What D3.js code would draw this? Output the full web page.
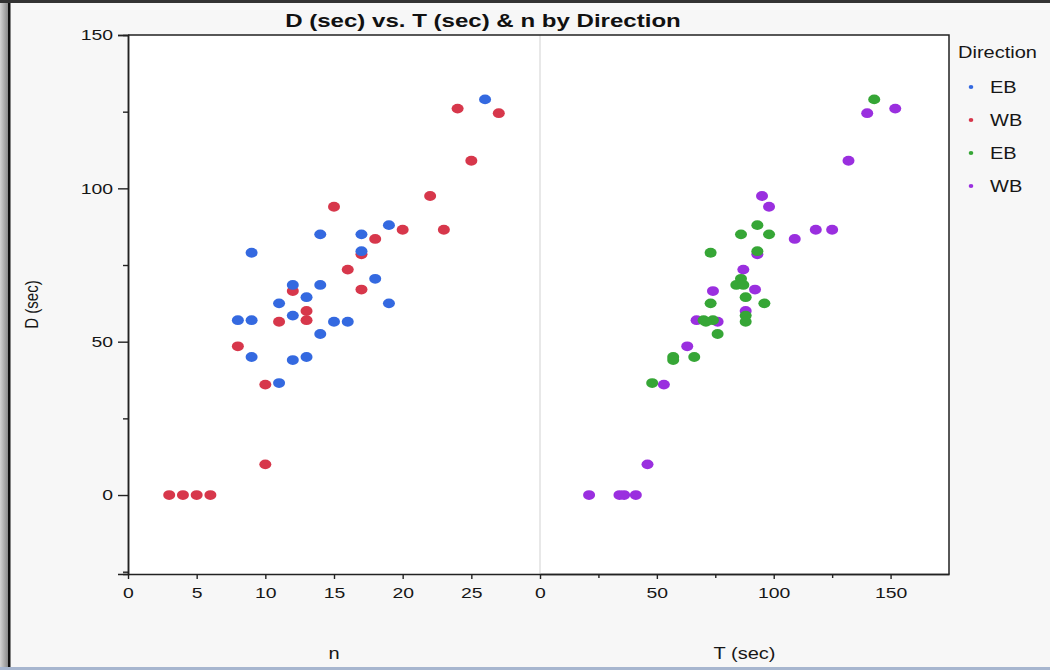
<!DOCTYPE html>
<html>
<head>
<meta charset="utf-8">
<script src="https://cdn.jsdelivr.net/npm/d3@7"></script>
<style>
  html, body { margin: 0; padding: 0; background: #f7f7f7; }
  svg { display: block; font-family: "Liberation Sans", Arial, sans-serif; }
</style>
</head>
<body>
<svg id="chart" width="1050" height="670"></svg>
<script>
// Eastbound observations: count n, travel time T (sec), delay D (sec)
const ebN = [26, 19, 14, 17, 9, 17, 18, 12, 14, 13, 11, 19, 12, 8, 9, 15, 16, 14, 9, 12, 13, 11];
const ebT = [143, 93, 86, 98, 73, 93, 86, 84, 87, 88, 73, 96, 88, 74, 70, 88, 71, 76, 57, 57, 66, 48];
const ebD = [129, 88, 85, 85, 79, 79.5, 70.5, 68.5, 68.5, 64.5, 62.5, 62.5, 58.5, 57, 57, 56.5, 56.5, 52.5, 45, 44, 45, 36.5];

// Westbound observations
const wbN = [24, 27, 25, 22, 15, 20, 23, 18, 17, 16, 17, 12, 13, 13, 11, 8, 10, 10, 3, 4, 5, 6];
const wbT = [152, 140, 132, 95, 98, 118, 125, 109, 93, 87, 92, 74, 88, 67, 76, 63, 53, 46, 21, 34, 36, 41];
const wbD = [126, 124.5, 109, 97.5, 94, 86.5, 86.5, 83.5, 78.5, 73.5, 67, 66.5, 60, 57, 56.5, 48.5, 36, 10, 0, 0, 0, 0];

// Axis ticks
const nTicks = [0, 5, 10, 15, 20, 25];
const tTicks = [0, 50, 100, 150];
const tMinor = [25, 75, 125];
const dTicks = [0, 50, 100, 150];
const dMinor = [-25, 25, 75, 125];

// Legend entries
const legendLabels = ["EB", "WB", "EB", "WB"];
const colors = { nEB: "#3469e0", nWB: "#d7374b", tEB: "#36a636", tWB: "#9a2fdf" };
const legendColors = [colors.nEB, colors.nWB, colors.tEB, colors.tWB];

const svg = d3.select("#chart");
const W = 1050, H = 670;
const STRETCH = 1.25;

// window frame
svg.append("rect").attr("x", 0).attr("y", 0).attr("width", W).attr("height", H).attr("fill", "#f7f7f7");
const grad = svg.append("defs").append("linearGradient").attr("id", "edge").attr("x1", 0).attr("x2", 1);
grad.append("stop").attr("offset", 0).attr("stop-color", "#d4d4d4");
grad.append("stop").attr("offset", 1).attr("stop-color", "#8a8a8a");
svg.append("rect").attr("x", 0).attr("y", 0).attr("width", 8).attr("height", H).attr("fill", "url(#edge)");
svg.append("rect").attr("x", 8).attr("y", 0).attr("width", 2.5).attr("height", H).attr("fill", "#111");
svg.append("rect").attr("x", 0).attr("y", 0).attr("width", W).attr("height", 3).attr("fill", "#333");
svg.append("rect").attr("x", 0).attr("y", 667).attr("width", W).attr("height", 3).attr("fill", "#a7b6cf");

// plot geometry
const pTop = 35, pBottom = 574, pLeft = 128, pMid = 540, pRight = 949;

const y = d3.scaleLinear().domain([-25.75, 150]).range([pBottom, pTop]);
const xN = d3.scaleLinear().domain([0, 30]).range([pLeft, pMid]);
const xT = d3.scaleLinear().domain([0, 175]).range([pMid, pRight]);

svg.append("rect").attr("x", pLeft).attr("y", pTop).attr("width", pRight - pLeft).attr("height", pBottom - pTop).attr("fill", "#fff");
svg.append("line").attr("x1", pMid).attr("x2", pMid).attr("y1", pTop).attr("y2", pBottom)
  .attr("stroke", "#d9d9d9").attr("stroke-width", 1.2);

// frame (top & right)
svg.append("path").attr("d", `M${pLeft},${pTop}H${pRight}V${pBottom}`).attr("fill", "none")
  .attr("stroke", "#222").attr("stroke-width", 1.5);

const textColor = "#161616";
function styleAxis(g) {
  g.selectAll(".domain").attr("stroke", "#222").attr("stroke-width", 1.5);
  g.selectAll(".tick line").attr("stroke", "#222").attr("stroke-width", 1.4);
  g.selectAll("text").attr("font-size", 15.5).attr("fill", textColor)
    .attr("font-family", '"Liberation Sans", Arial, sans-serif').classed("st", true);
}

// y axis
svg.append("g").attr("transform", `translate(${pLeft},0)`)
  .call(d3.axisLeft(y).tickValues(dMinor).tickSize(5).tickFormat(""))
  .call(styleAxis);
svg.append("g").attr("transform", `translate(${pLeft},0)`)
  .call(d3.axisLeft(y).tickValues(dTicks).tickSize(10).tickPadding(5))
  .call(styleAxis);

// x axes
svg.append("g").attr("transform", `translate(0,${pBottom})`)
  .call(d3.axisBottom(xN).tickValues(nTicks).tickSize(5).tickPadding(8).tickSizeOuter(0))
  .call(styleAxis);
svg.append("g").attr("transform", `translate(0,${pBottom})`)
  .call(d3.axisBottom(xT).tickValues(tMinor).tickSize(4).tickFormat("").tickSizeOuter(0))
  .call(styleAxis);
svg.append("g").attr("transform", `translate(0,${pBottom})`)
  .call(d3.axisBottom(xT).tickValues(tTicks).tickSize(5).tickPadding(8).tickSizeOuter(0))
  .call(styleAxis);

// points
const ebRows = ebN.map((n, i) => ({ n, t: ebT[i], d: ebD[i] }));
const wbRows = wbN.map((n, i) => ({ n, t: wbT[i], d: wbD[i] }));
const RX = 6, RY = 4.9;

const pts = svg.append("g");
pts.selectAll(".nwb").data(wbRows).join("ellipse").attr("class", "nwb")
  .attr("cx", r => xN(r.n)).attr("cy", r => y(r.d)).attr("rx", RX).attr("ry", RY).attr("fill", colors.nWB);
pts.selectAll(".neb").data(ebRows).join("ellipse").attr("class", "neb")
  .attr("cx", r => xN(r.n)).attr("cy", r => y(r.d)).attr("rx", RX).attr("ry", RY).attr("fill", colors.nEB);
pts.selectAll(".twb").data(wbRows).join("ellipse").attr("class", "twb")
  .attr("cx", r => xT(r.t)).attr("cy", r => y(r.d)).attr("rx", RX).attr("ry", RY).attr("fill", colors.tWB);
pts.selectAll(".teb").data(ebRows).join("ellipse").attr("class", "teb")
  .attr("cx", r => xT(r.t)).attr("cy", r => y(r.d)).attr("rx", RX).attr("ry", RY).attr("fill", colors.tEB);

// titles
svg.append("text").attr("class", "st wide").attr("x", 483).attr("y", 27).attr("text-anchor", "middle")
  .attr("font-size", 18.5).attr("font-weight", "bold").attr("fill", "#111")
  .text("D (sec) vs. T (sec) & n by Direction");
svg.append("text").attr("class", "st").attr("x", (pLeft + pMid) / 2).attr("y", 659).attr("text-anchor", "middle")
  .attr("font-size", 16).attr("fill", textColor).text("n");
svg.append("text").attr("class", "st").attr("x", (pMid + pRight) / 2).attr("y", 659).attr("text-anchor", "middle")
  .attr("font-size", 16).attr("fill", textColor).text("T (sec)");
svg.append("text").attr("transform", `translate(38,${(pTop + pBottom) / 2}) scale(${STRETCH},1) rotate(-90)`)
  .attr("text-anchor", "middle").attr("font-size", 15).attr("fill", textColor).text("D (sec)");

// legend
const lg = svg.append("g");
lg.append("text").attr("class", "st").attr("x", 958).attr("y", 58).attr("font-size", 16)
  .attr("fill", textColor).text("Direction");
const items = lg.selectAll(".item").data(legendLabels).join("g").attr("class", "item")
  .attr("transform", (d, i) => `translate(0,${87 + i * 33})`);
items.append("ellipse").attr("cx", 971).attr("cy", 0).attr("rx", 2.3).attr("ry", 1.9)
  .attr("fill", (d, i) => legendColors[i]);
items.append("text").attr("class", "st").attr("x", 990).attr("y", 6).attr("font-size", 16)
  .attr("fill", textColor).text(d => d);

// widen glyphs horizontally
svg.selectAll("text.st").each(function () {
  const w = this.getComputedTextLength();
  const s = this.classList.contains("wide") ? 1.3 : STRETCH;
  if (w > 0) d3.select(this).attr("textLength", w * s).attr("lengthAdjust", "spacingAndGlyphs");
});
</script>
</body>
</html>
